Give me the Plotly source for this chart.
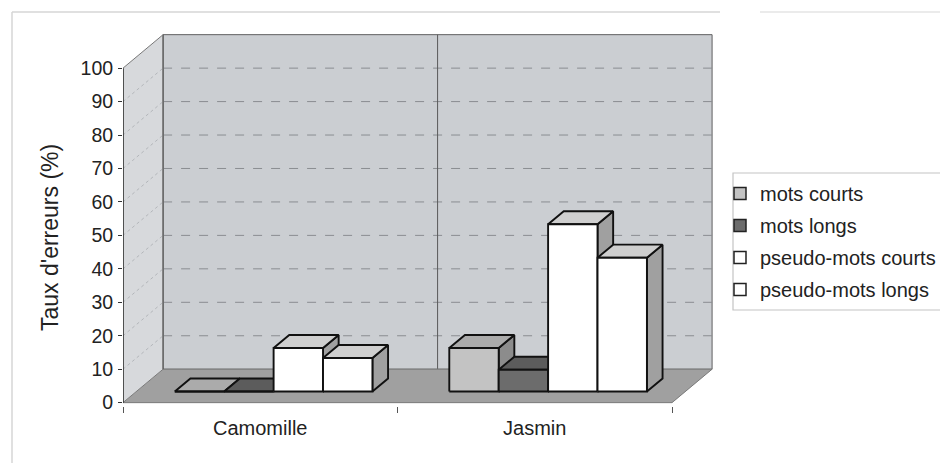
import plotly.graph_objects as go

# ---------------- data ----------------
categories = ["Camomille", "Jasmin"]
series_names = ["mots courts", "mots longs", "pseudo-mots courts", "pseudo-mots longs"]
mots_courts = [0, 13]
mots_longs = [0, 6.5]
pseudo_mots_courts = [13, 50]
pseudo_mots_longs = [10, 40]
y_tick_values = list(range(0, 101, 10))
y_title = "Taux d'erreurs (%)"

series_values = [mots_courts, mots_longs, pseudo_mots_courts, pseudo_mots_longs]

# ---------------- style / geometry ----------------
W, H = 940, 463
ML, MR, MT, MB = 123, 224, 33, 57
PW, PH = W - ML - MR, H - MT - MB
DX, DY = 0.146, 10.0          # oblique depth offset of the whole chart box
X_MAX = PW / 274.5
Y_MIN, Y_MAX = -1.0, 110.5
BAR_W = 0.18
EDGE = (1 - len(series_names) * BAR_W) / 2
F0 = 1 / 3                     # depth position of bar fronts
BD = 0.39                      # bar depth (fraction of box depth)
FONT = "Liberation Sans, Arial, sans-serif"
TXT = "#222222"

FRONT = ["#c3c3c3", "#6c6c6c", "#ffffff", "#ffffff"]
TOP = ["#ababab", "#5c5c5c", "#cfcfcf", "#cfcfcf"]
SIDE = ["#8c8c8c", "#4c4c4c", "#a0a0a0", "#a0a0a0"]


def poly_path(pts):
    return "M " + " L ".join(f"{x},{y}" for x, y in pts) + " Z"


# pixel -> paper helpers
def px(xp):
    return (xp - ML) / PW


def py(yp):
    return (H - MB - yp) / PH


shapes = []
# side wall
shapes.append(dict(type="path", xref="x", yref="y", layer="below",
                   path=poly_path([(0, 0), (0, 100), (DX, 100 + DY), (DX, DY)]),
                   fillcolor="#d7d9dc", line=dict(width=0)))
# back wall
shapes.append(dict(type="rect", xref="x", yref="y", layer="below",
                   x0=DX, x1=len(categories) + DX, y0=DY, y1=100 + DY,
                   fillcolor="#cbced2", line=dict(color="#5f5f5f", width=1)))
# side wall gridlines
for v in y_tick_values[1:-1]:
    shapes.append(dict(type="line", xref="x", yref="y", layer="below",
                       x0=0, y0=v, x1=DX, y1=v + DY,
                       line=dict(color="#b3b6ba", width=1, dash="dot")))
# back wall gridlines
for v in y_tick_values[1:-1]:
    shapes.append(dict(type="line", xref="x", yref="y", layer="below",
                       x0=DX, y0=v + DY, x1=len(categories) + DX, y1=v + DY,
                       line=dict(color="#8a8d91", width=1, dash="dash")))
# category divider on back wall
for i in range(1, len(categories)):
    shapes.append(dict(type="line", xref="x", yref="y", layer="below",
                       x0=i + DX, y0=DY, x1=i + DX, y1=100 + DY,
                       line=dict(color="#5a5a5a", width=1)))
# floor
shapes.append(dict(type="path", xref="x", yref="y", layer="below",
                   path=poly_path([(0, 0), (len(categories), 0),
                                   (len(categories) + DX, DY), (DX, DY)]),
                   fillcolor="#a0a0a0", line=dict(color="#7a7a7a", width=1)))
# edges
shapes.append(dict(type="line", xref="x", yref="y", layer="below",
                   x0=DX, y0=DY, x1=DX, y1=100 + DY,
                   line=dict(color="#555555", width=1)))
shapes.append(dict(type="line", xref="x", yref="y", layer="below",
                   x0=0, y0=100, x1=DX, y1=100 + DY,
                   line=dict(color="#777777", width=1)))
shapes.append(dict(type="line", xref="x", yref="y", layer="below",
                   x0=0, y0=0, x1=0, y1=100,
                   line=dict(color="#222222", width=1.5)))

# scanned page frame
shapes.append(dict(type="line", xref="paper", yref="paper",
                   x0=px(12), y0=py(12), x1=px(720), y1=py(12),
                   line=dict(color="#d6d6d6", width=1.5)))
shapes.append(dict(type="line", xref="paper", yref="paper",
                   x0=px(760), y0=py(12), x1=px(940), y1=py(12),
                   line=dict(color="#e4e4e4", width=1.5)))
shapes.append(dict(type="line", xref="paper", yref="paper",
                   x0=px(12), y0=py(12), x1=px(12), y1=py(463),
                   line=dict(color="#d6d6d6", width=1.5)))
# legend box (open on the right, cut by the page edge)
shapes.append(dict(type="rect", xref="paper", yref="paper", layer="below",
                   x0=px(733), y0=py(310), x1=px(946), y1=py(173),
                   fillcolor="white", line=dict(color="#c4c4c4", width=1.2)))

fig = go.Figure()

for k, (name, vals) in enumerate(zip(series_names, series_values)):
    fx, fy, tx, ty, sx, sy = [], [], [], [], [], []
    for i, v in enumerate(vals):
        x0 = i + EDGE + k * BAR_W + F0 * DX
        x1 = x0 + BAR_W
        y0 = F0 * DY
        y1 = y0 + v
        bdx, bdy = BD * DX, BD * DY
        fx += [x0, x1, x1, x0, x0, None]
        fy += [y0, y0, y1, y1, y0, None]
        tx += [x0, x1, x1 + bdx, x0 + bdx, x0, None]
        ty += [y1, y1, y1 + bdy, y1 + bdy, y1, None]
        sx += [x1, x1 + bdx, x1 + bdx, x1, x1, None]
        sy += [y0, y0 + bdy, y1 + bdy, y1, y0, None]
    common = dict(mode="lines", fill="toself", showlegend=False, hoverinfo="skip",
                  legendgroup=name, line=dict(color="#111111", width=1.9))
    fig.add_trace(go.Scatter(x=sx, y=sy, fillcolor=SIDE[k], name=name + " (côté)", **common))
    fig.add_trace(go.Scatter(x=tx, y=ty, fillcolor=TOP[k], name=name + " (dessus)", **common))
    fig.add_trace(go.Scatter(x=fx, y=fy, fillcolor=FRONT[k], name=name, **common))

for k, name in enumerate(series_names):
    fig.add_trace(go.Scatter(x=[None], y=[None], mode="markers", name=name,
                             legendgroup=name, showlegend=True,
                             marker=dict(symbol="square", size=12, color=FRONT[k],
                                         line=dict(color="#222222", width=1.5))))

fig.update_layout(
    width=W, height=H,
    margin=dict(l=ML, r=MR, t=MT, b=MB, autoexpand=False),
    paper_bgcolor="white", plot_bgcolor="rgba(0,0,0,0)",
    font=dict(family=FONT, color=TXT, size=19),
    shapes=shapes,
    showlegend=True,
    legend=dict(x=px(720), y=py(174), xanchor="left", yanchor="top",
                bgcolor="rgba(0,0,0,0)", borderwidth=0,
                font=dict(size=20, color=TXT), tracegroupgap=3,
                itemclick=False, itemdoubleclick=False),
    annotations=[dict(text=y_title, textangle=-90, xref="paper", yref="paper",
                      x=px(50), y=py(238), xanchor="center", yanchor="middle",
                      showarrow=False, font=dict(size=23, color=TXT))],
    xaxis=dict(range=[0, X_MAX], showgrid=False, zeroline=False, showline=False,
               tickmode="array", tickvals=[i + 0.5 for i in range(len(categories))],
               ticktext=categories, ticks="", tickfont=dict(size=20),
               ticklabelstandoff=8,
               minor=dict(tickmode="array", tickvals=list(range(len(categories) + 1)),
                          ticks="outside", ticklen=6, tickcolor="#555555")),
    yaxis=dict(range=[Y_MIN, Y_MAX], showgrid=False, zeroline=False, showline=False,
               tickmode="array", tickvals=y_tick_values, ticks="outside", ticklen=4,
               tickcolor="#333333", tickfont=dict(size=19.5), ticklabelstandoff=1),
)

fig.write_html("out.html")
